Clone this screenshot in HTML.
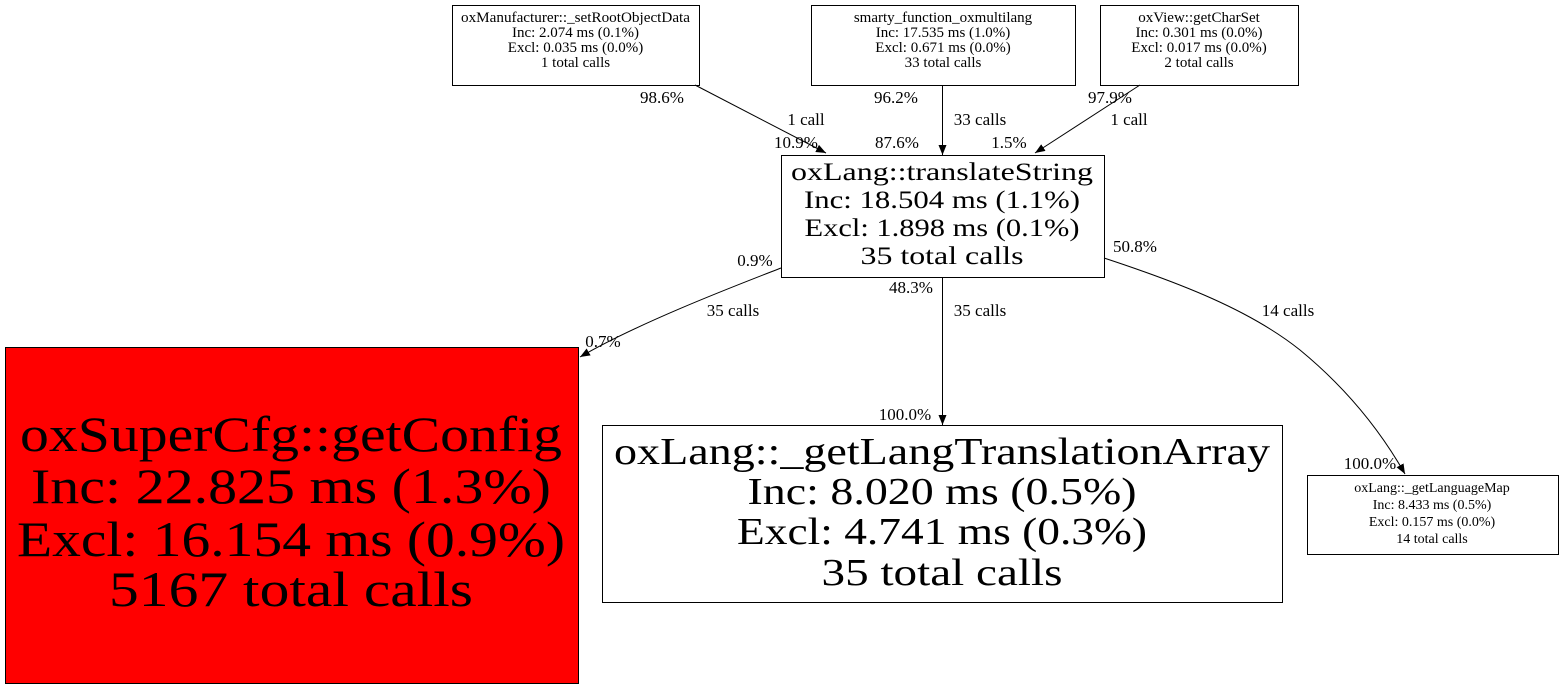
<!DOCTYPE html>
<html><head><meta charset="utf-8"><style>
html,body{margin:0;padding:0;background:#fff;}
svg{display:block;}
text{font-family:"Liberation Serif",serif;fill:#000;}
</style></head><body>
<svg width="1564" height="688" viewBox="0 0 1564 688" xmlns="http://www.w3.org/2000/svg">
<defs>
<marker id="a" viewBox="0 0 10 10" refX="10" refY="5" markerWidth="10" markerHeight="10" markerUnits="userSpaceOnUse" orient="auto">
<path d="M0,1 L10,5 L0,9 Z" fill="#000"/>
</marker>
</defs>
<g fill="none" stroke="#000" stroke-width="1">
<rect x="452.5" y="5.5" width="247" height="80"/>
<rect x="811.5" y="5.5" width="264" height="80"/>
<rect x="1100.5" y="5.5" width="198" height="80"/>
<rect x="781.5" y="155.5" width="323" height="122"/>
<rect x="5.5" y="347.5" width="573" height="336" fill="#ff0000"/>
<rect x="602.5" y="425.5" width="680" height="177"/>
<rect x="1307.5" y="475.5" width="251" height="79"/>
<path d="M695,85 L826,153" marker-end="url(#a)"/>
<path d="M942.5,85 L942.5,155" marker-end="url(#a)"/>
<path d="M1140,85 L1035,153" marker-end="url(#a)"/>
<path d="M781,268 C740,284 640,322 580,357" marker-end="url(#a)"/>
<path d="M942.5,277 L942.5,425" marker-end="url(#a)"/>
<path d="M1104,258 C1180,283 1250,310 1300,350 C1345,387 1380,430 1405,474" marker-end="url(#a)"/>
</g>
<g font-size="15" text-anchor="middle">
<text x="575.5" y="22" textLength="229" lengthAdjust="spacingAndGlyphs">oxManufacturer::_setRootObjectData</text>
<text x="575.5" y="37">Inc: 2.074 ms (0.1%)</text>
<text x="575.5" y="52">Excl: 0.035 ms (0.0%)</text>
<text x="575.5" y="67">1 total calls</text>
<text x="943" y="22">smarty_function_oxmultilang</text>
<text x="943" y="37">Inc: 17.535 ms (1.0%)</text>
<text x="943" y="52">Excl: 0.671 ms (0.0%)</text>
<text x="943" y="67">33 total calls</text>
<text x="1199" y="22">oxView::getCharSet</text>
<text x="1199" y="37">Inc: 0.301 ms (0.0%)</text>
<text x="1199" y="52">Excl: 0.017 ms (0.0%)</text>
<text x="1199" y="67">2 total calls</text>
</g>
<g font-size="14" text-anchor="middle">
<text x="1432" y="492">oxLang::_getLanguageMap</text>
<text x="1432" y="509">Inc: 8.433 ms (0.5%)</text>
<text x="1432" y="526">Excl: 0.157 ms (0.0%)</text>
<text x="1432" y="543">14 total calls</text>
</g>
<g font-size="25" text-anchor="middle">
<text x="942" y="180" textLength="302" lengthAdjust="spacingAndGlyphs">oxLang::translateString</text>
<text x="942" y="208" textLength="276" lengthAdjust="spacingAndGlyphs">Inc: 18.504 ms (1.1%)</text>
<text x="942" y="236" textLength="275" lengthAdjust="spacingAndGlyphs">Excl: 1.898 ms (0.1%)</text>
<text x="942" y="264" textLength="163" lengthAdjust="spacingAndGlyphs">35 total calls</text>
</g>
<g font-size="50" text-anchor="middle">
<text x="291" y="451" textLength="542" lengthAdjust="spacingAndGlyphs">oxSuperCfg::getConfig</text>
<text x="291" y="503" textLength="520" lengthAdjust="spacingAndGlyphs">Inc: 22.825 ms (1.3%)</text>
<text x="291" y="556" textLength="548" lengthAdjust="spacingAndGlyphs">Excl: 16.154 ms (0.9%)</text>
<text x="291" y="606" textLength="364" lengthAdjust="spacingAndGlyphs">5167 total calls</text>
</g>
<g font-size="38" text-anchor="middle">
<text x="942" y="464" textLength="656" lengthAdjust="spacingAndGlyphs">oxLang::_getLangTranslationArray</text>
<text x="942" y="504" textLength="389" lengthAdjust="spacingAndGlyphs">Inc: 8.020 ms (0.5%)</text>
<text x="942" y="544" textLength="410" lengthAdjust="spacingAndGlyphs">Excl: 4.741 ms (0.3%)</text>
<text x="942" y="585" textLength="241" lengthAdjust="spacingAndGlyphs">35 total calls</text>
</g>
<g font-size="17" text-anchor="middle">
<text x="662" y="103">98.6%</text>
<text x="806" y="125">1 call</text>
<text x="796" y="148">10.9%</text>
<text x="896" y="103">96.2%</text>
<text x="980" y="125">33 calls</text>
<text x="897" y="148">87.6%</text>
<text x="1110" y="103">97.9%</text>
<text x="1129" y="125">1 call</text>
<text x="1009" y="148">1.5%</text>
<text x="755" y="266">0.9%</text>
<text x="733" y="316">35 calls</text>
<text x="603" y="347">0.7%</text>
<text x="911" y="293">48.3%</text>
<text x="980" y="316">35 calls</text>
<text x="905" y="420">100.0%</text>
<text x="1135" y="252">50.8%</text>
<text x="1288" y="316">14 calls</text>
<text x="1370" y="469">100.0%</text>
</g>
</svg>
</body></html>
